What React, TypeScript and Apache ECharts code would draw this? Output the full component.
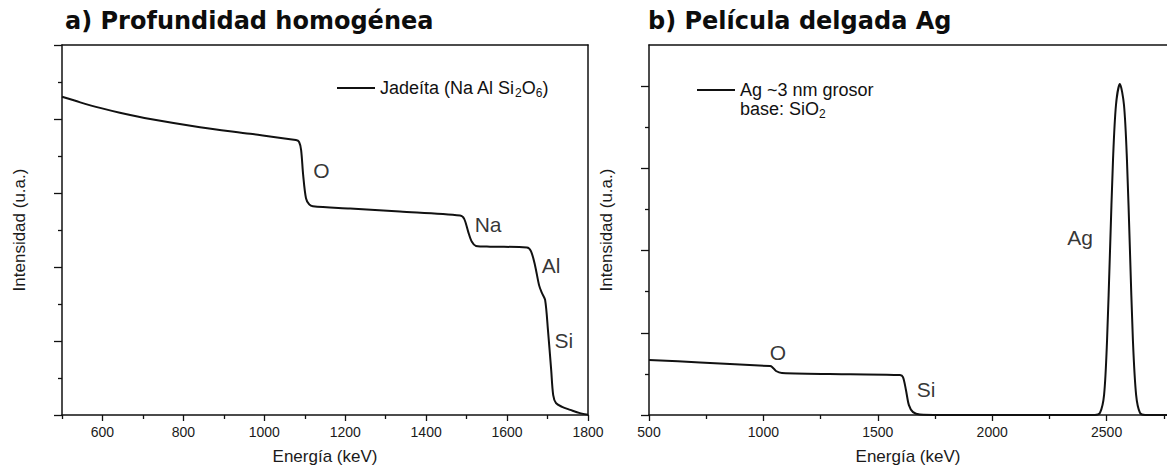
import { useEffect, useRef } from 'react';
import * as echarts from 'echarts';

// Panel a: homogeneous depth, jadeite spectrum
const energyA = [500, 545, 594, 643, 718, 841, 965, 1078, 1086, 1091, 1096, 1103, 1111, 1120, 1212, 1335, 1484, 1494, 1504, 1513, 1523, 1558, 1649, 1659, 1669, 1679, 1686, 1694, 1701, 1709, 1714, 1721, 1736, 1756, 1780, 1800];
const intensityA = [8.6, 8.45, 8.3, 8.17, 8.0, 7.78, 7.6, 7.43, 7.38, 7.16, 6.49, 5.86, 5.69, 5.64, 5.58, 5.5, 5.39, 5.3, 4.95, 4.68, 4.57, 4.55, 4.53, 4.43, 4.05, 3.51, 3.3, 3.11, 2.3, 1.22, 0.54, 0.32, 0.22, 0.14, 0.05, 0.01];
const edgeLabelsA = ['O', 'Na', 'Al', 'Si'];
const edgeEnergyA = [1141, 1553, 1709, 1740];
const edgeLevelA = [6.61, 5.15, 4.05, 2.01];

// Panel b: thin Ag film on SiO2
const energyB = [500, 723, 1029, 1038, 1055, 1081, 1379, 1597, 1610, 1623, 1636, 1654, 1684, 1772, 2100, 2449, 2471, 2489, 2502, 2515, 2528, 2541, 2558, 2576, 2589, 2602, 2615, 2629, 2646, 2668, 2764];
const intensityB = [1.34, 1.28, 1.19, 1.17, 1.07, 1.02, 0.99, 0.97, 0.92, 0.61, 0.24, 0.07, 0.01, 0, 0, 0, 0.05, 0.49, 1.82, 4.01, 6.2, 7.54, 8.05, 7.54, 6.2, 4.01, 1.82, 0.49, 0.05, 0, 0];
const edgeLabelsB = ['O', 'Si', 'Ag'];
const edgeEnergyB = [1064, 1711, 2384];
const edgeLevelB = [1.53, 0.63, 4.31];

// Axis ticks and labels
const xLabelsA = [600, 800, 1000, 1200, 1400, 1600, 1800];
const xMinorA = [500, 700, 900, 1100, 1300, 1500, 1700];
const xLabelsB = [500, 1000, 1500, 2000, 2500];
const xMinorB = [750, 1250, 1750, 2250, 2750];
const yMajorA = [0, 2, 4, 6, 8, 10];
const yMinorA = [1, 3, 5, 7, 9];
const yMajorB = [0, 2, 4, 6, 8];
const yMinorB = [1, 3, 5, 7];

const nameA = 'Jadeíta (Na Al Si2O6)';
const nameB = 'Ag ~3 nm grosor';

const INK = '#111';
const SANS = '"Liberation Sans", Arial, sans-serif';
const FRAME = { color: INK, width: 1.5 };

const zip = (xs: number[], ys: number[]) => xs.map((x, i) => [x, ys[i]]);

const subRich = {
  sub: { fontSize: 12, lineHeight: 12, verticalAlign: 'bottom' as const, fontFamily: SANS, color: INK },
};

function mainX(grid: number, min: number, max: number, labels: number[]) {
  return {
    type: 'value', gridIndex: grid, min, max, position: 'bottom',
    axisLine: { show: true, onZero: false, lineStyle: FRAME },
    axisTick: { show: true, customValues: labels, length: 6, lineStyle: { color: INK, width: 1.3 } },
    axisLabel: {
      show: true, customValues: labels, fontSize: 14, color: '#1a1a1a', fontFamily: SANS, margin: 10,
      formatter: (v: number) => String(v),
    },
    splitLine: { show: false },
    name: 'Energía (keV)', nameLocation: 'middle', nameGap: 33,
    nameTextStyle: { fontSize: 17, color: '#1a1a1a', fontFamily: SANS },
  };
}

function minorX(grid: number, min: number, max: number, ticks: number[]) {
  return {
    type: 'value', gridIndex: grid, min, max, position: 'bottom',
    axisLine: { show: false },
    axisTick: { show: true, customValues: ticks, length: 4, lineStyle: { color: INK, width: 1.3 } },
    axisLabel: { show: false },
    splitLine: { show: false },
  };
}

// Plain frame edge along the top of a panel
function topEdge(grid: number, min: number, max: number) {
  return {
    type: 'value', gridIndex: grid, min, max, position: 'top',
    axisLine: { show: true, onZero: false, lineStyle: FRAME },
    axisTick: { show: false }, axisLabel: { show: false }, splitLine: { show: false },
  };
}

function mainY(grid: number, max: number, ticks: number[]) {
  return {
    type: 'value', gridIndex: grid, min: 0, max, position: 'left',
    axisLine: { show: true, onZero: false, lineStyle: FRAME },
    axisTick: { show: true, customValues: ticks, length: 8, lineStyle: { color: INK, width: 1.3 } },
    axisLabel: { show: false },
    splitLine: { show: false },
    name: 'Intensidad (u.a.)', nameLocation: 'middle', nameGap: 34,
    nameTextStyle: { fontSize: 17, color: '#1a1a1a', fontFamily: SANS },
  };
}

function minorY(grid: number, max: number, ticks: number[]) {
  return {
    type: 'value', gridIndex: grid, min: 0, max, position: 'left',
    axisLine: { show: false },
    axisTick: { show: true, customValues: ticks, length: 4, lineStyle: { color: INK, width: 1.3 } },
    axisLabel: { show: false },
    splitLine: { show: false },
  };
}

function rightEdge(grid: number, max: number) {
  return {
    type: 'value', gridIndex: grid, min: 0, max, position: 'right',
    axisLine: { show: true, onZero: false, lineStyle: FRAME },
    axisTick: { show: false }, axisLabel: { show: false }, splitLine: { show: false },
  };
}

function curve(name: string, xi: number, yi: number, data: number[][]) {
  return {
    type: 'line', name, xAxisIndex: xi, yAxisIndex: yi, data,
    showSymbol: false, symbol: 'none', smooth: 0.3,
    lineStyle: { color: INK, width: 2 }, itemStyle: { color: INK },
    silent: true,
  };
}

function edgeLabels(xi: number, yi: number, names: string[], xs: number[], ys: number[]) {
  return {
    type: 'scatter', xAxisIndex: xi, yAxisIndex: yi,
    data: names.map((n, i) => [xs[i], ys[i], n]),
    symbolSize: 1, itemStyle: { color: 'rgba(0,0,0,0)' }, silent: true,
    label: {
      show: true, position: 'inside', formatter: (p: any) => p.value[2],
      fontSize: 21, color: '#000', fontFamily: SANS,
    },
  };
}

const titleStyle = { fontFamily: '"DejaVu Sans", Verdana, sans-serif', fontWeight: 'bold' as const, fontSize: 24, color: '#0d0d0d' };
const legendText = { fontSize: 18, color: INK, fontFamily: SANS, lineHeight: 22, rich: subRich };

export default function App() {
  const ref = useRef<HTMLDivElement>(null);
  useEffect(() => {
    const chart = echarts.init(ref.current!, null, { renderer: 'svg' });
    chart.setOption({
      animation: false,
      backgroundColor: '#fff',
      title: [
        { text: 'a) Profundidad homogénea', left: 65, top: 9, padding: 0, textStyle: titleStyle },
        { text: 'b) Película delgada Ag', left: 648, top: 9, padding: 0, textStyle: titleStyle },
      ],
      grid: [
        { left: 62, top: 45, right: 579, bottom: 57 },
        { left: 649, top: 45, right: 0, bottom: 57 },
      ],
      xAxis: [
        mainX(0, 500, 1800, xLabelsA),   // 0
        minorX(0, 500, 1800, xMinorA),   // 1
        topEdge(0, 500, 1800),           // 2
        mainX(1, 500, 2764, xLabelsB),   // 3
        minorX(1, 500, 2764, xMinorB),   // 4
        topEdge(1, 500, 2764),           // 5
      ],
      yAxis: [
        mainY(0, 10, yMajorA),           // 0
        minorY(0, 10, yMinorA),          // 1
        rightEdge(0, 10),                // 2
        mainY(1, 9, yMajorB),            // 3
        minorY(1, 9, yMinorB),           // 4
      ],
      legend: [
        {
          data: [nameA], left: 337, top: 77, itemWidth: 38, itemHeight: 2, icon: 'rect',
          selectedMode: false, padding: 0,
          formatter: () => 'Jadeíta (Na Al Si{sub|2}O{sub|6})', textStyle: legendText,
        },
        {
          data: [nameB], left: 697, top: 79, itemWidth: 38, itemHeight: 2, icon: 'rect',
          selectedMode: false, padding: 0,
          textStyle: legendText,
        },
      ],
      graphic: [
        {
          type: 'text', left: 740, top: 98, silent: true,
          style: { text: 'base: SiO{sub|2}', fontSize: 18, fontFamily: SANS, fill: INK, lineHeight: 22, rich: subRich },
        },
      ],
      series: [
        curve(nameA, 0, 0, zip(energyA, intensityA)),
        curve(nameB, 3, 3, zip(energyB, intensityB)),
        edgeLabels(0, 0, edgeLabelsA, edgeEnergyA, edgeLevelA),
        edgeLabels(3, 3, edgeLabelsB, edgeEnergyB, edgeLevelB),
      ],
    });
    return () => chart.dispose();
  }, []);
  return <div ref={ref} style={{ position: 'fixed', left: 0, top: 0, width: 1167, height: 472 }} />;
}
